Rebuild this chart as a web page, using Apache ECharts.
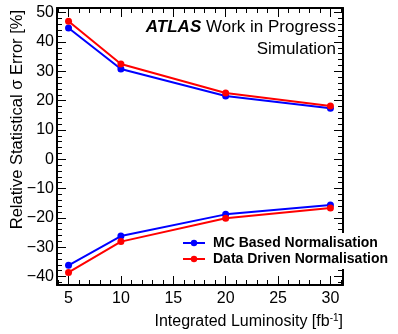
<!doctype html>
<html>
<head>
    <meta charset="utf-8">
    <title>ATLAS</title>
    <script src="https://cdn.jsdelivr.net/npm/echarts@6/dist/echarts.min.js"></script>
    <style>
        html, body { margin: 0; padding: 0; background: #fff; }
        #main { width: 398px; height: 334px; }
    </style>
</head>
<body>
    <div id="main"></div>
    <script type="text/javascript">
        // luminosity points [fb-1]
        var lumi = [5, 10, 20, 30];
        // MC based normalisation (blue), upper / lower
        var mcUp = [44.8, 30.8, 21.6, 17.4];
        var mcDown = [-36.2, -26.2, -18.8, -15.6];
        // data driven normalisation (red), upper / lower
        var ddUp = [47.1, 32.5, 22.6, 18.2];
        var ddDown = [-38.6, -28.1, -20.1, -16.6];

        var xMajor = [5, 10, 15, 20, 25, 30];
        var xMinor = [4, 6, 7, 8, 9, 11, 12, 13, 14, 16, 17, 18, 19, 21, 22, 23, 24, 26, 27, 28, 29, 31];
        var yMajor = [-40, -30, -20, -10, 0, 10, 20, 30, 40, 50];
        var yMinor = [-42, -38, -36, -34, -32, -28, -26, -24, -22, -18, -16, -14, -12, -8, -6, -4, -2,
            2, 4, 6, 8, 12, 14, 16, 18, 22, 24, 26, 28, 32, 34, 36, 38, 42, 44, 46, 48];

        var X_MIN = 3.9, X_MAX = 31.2, Y_MIN = -42.9, Y_MAX = 51.6;
        var font = 'Liberation Sans, Arial, Helvetica, sans-serif';

        function pairs(xs, ys) {
            return xs.map(function (x, i) { return [x, ys[i]]; });
        }

        function xAx(pos, ticks, len, labels, line) {
            return {
                type: 'value', position: pos, min: X_MIN, max: X_MAX,
                splitLine: { show: false },
                axisLine: { show: line, onZero: false, lineStyle: { color: '#000', width: 2 } },
                axisTick: { show: true, inside: true, length: len, customValues: ticks, lineStyle: { color: '#000', width: 1 } },
                axisLabel: labels ? { show: true, customValues: ticks, color: '#000', fontSize: 16, fontFamily: font, margin: 6 } : { show: false }
            };
        }
        function yAx(pos, ticks, len, labels, line) {
            return {
                type: 'value', position: pos, min: Y_MIN, max: Y_MAX,
                splitLine: { show: false },
                axisLine: { show: line, onZero: false, lineStyle: { color: '#000', width: 2 } },
                axisTick: { show: true, inside: true, length: len, customValues: ticks, lineStyle: { color: '#000', width: 1 } },
                axisLabel: labels ? {
                    show: true, customValues: ticks, color: '#000', fontSize: 16, fontFamily: font, margin: 3,
                    formatter: function (v) { return v < 0 ? '\u2212' + (-v) : String(v); }
                } : { show: false }
            };
        }

        function line(name, color, data) {
            return {
                name: name, type: 'line', xAxisIndex: 0, yAxisIndex: 0,
                data: data, color: color,
                symbol: 'circle', symbolSize: 7,
                lineStyle: { width: 2, color: color },
                itemStyle: { color: color },
                animation: false
            };
        }

        var myChart = echarts.init(document.getElementById('main'));
        var option = {
            animation: false,
            grid: { left: 57, right: 55, top: 8, bottom: 49 },
            xAxis: [
                xAx('bottom', xMajor, 9, true, true),
                xAx('bottom', xMinor, 5, false, false),
                xAx('top', xMajor, 9, false, true),
                xAx('top', xMinor, 5, false, false)
            ],
            yAxis: [
                yAx('left', yMajor, 9, true, true),
                yAx('left', yMinor, 5, false, false),
                yAx('right', yMajor, 9, false, true),
                yAx('right', yMinor, 5, false, false)
            ],
            legend: {
                orient: 'vertical',
                left: 178, top: 233,
                padding: [3, 4, 3, 4],
                itemGap: 2,
                itemWidth: 22, itemHeight: 8,
                backgroundColor: '#fff',
                data: ['MC Based Normalisation', 'Data Driven Normalisation'],
                textStyle: { color: '#000', fontSize: 14, lineHeight: 14, fontWeight: 'bold', fontFamily: font, padding: [0, 0, 0, 3] }
            },
            graphic: [
                {
                    type: 'text', right: 62, top: 19,
                    style: {
                        text: '{b|ATLAS} Work in Progress', fill: '#000', font: '17px ' + font,
                        rich: { b: { fontWeight: 'bold', fontStyle: 'italic', fontSize: 17, fontFamily: font } }
                    }
                },
                {
                    type: 'text', right: 62, top: 41,
                    style: { text: 'Simulation', fill: '#000', font: '17px ' + font }
                },
                {
                    type: 'text', right: 55, top: 313,
                    style: {
                        text: 'Integrated Luminosity [fb{s|-1}]', fill: '#000', font: '16px ' + font,
                        rich: { s: { fontSize: 10, fontFamily: font, padding: [0, 0, 8, 0] } }
                    }
                },
                {
                    type: 'text', x: 17, y: 10, rotation: Math.PI / 2,
                    style: {
                        text: 'Relative Statistical \u03c3 Error [%]', fill: '#000', font: '16.5px ' + font,
                        align: 'right', verticalAlign: 'middle'
                    }
                }
            ],
            series: [
                line('MC Based Normalisation', '#0000ff', pairs(lumi, mcUp)),
                line('MC Based Normalisation', '#0000ff', pairs(lumi, mcDown)),
                line('Data Driven Normalisation', '#ff0000', pairs(lumi, ddUp)),
                line('Data Driven Normalisation', '#ff0000', pairs(lumi, ddDown))
            ]
        };
        myChart.setOption(option);
    </script>
</body>
</html>
